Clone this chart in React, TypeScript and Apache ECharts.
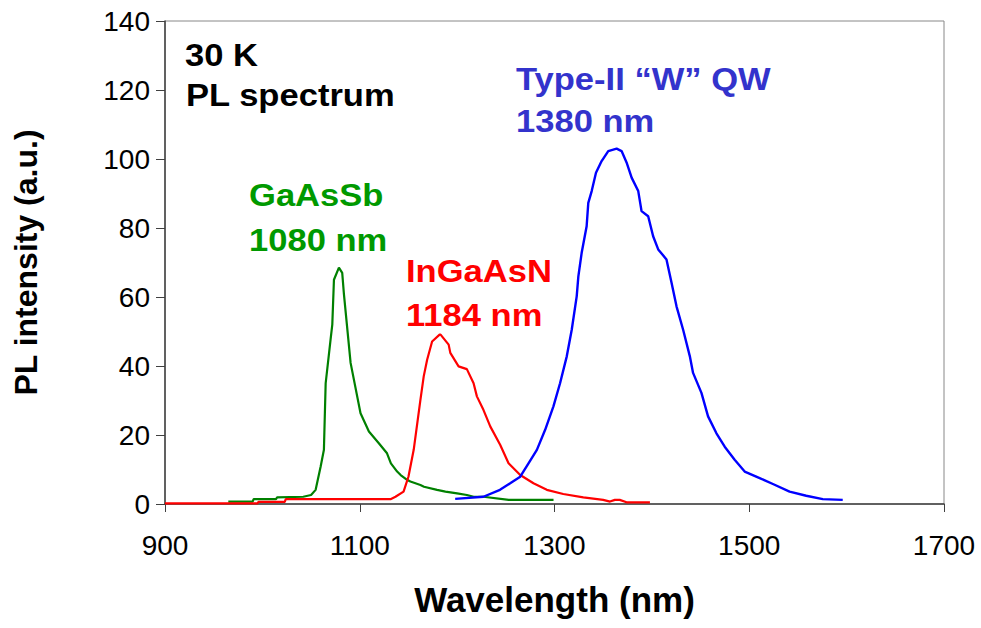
import React, { useEffect, useRef } from "react";
import * as echarts from "echarts";

// GaAsSb (green)
const gaassbX = [965, 990, 991, 1014, 1015, 1042, 1050, 1054.7, 1059.8, 1063.2, 1065, 1070, 1071.8, 1073.5, 1078.6, 1082, 1083.7, 1090.6, 1100.8, 1109.4, 1119.6, 1128, 1132, 1138.4, 1142, 1148.6, 1152, 1162.3, 1166, 1179.4, 1188, 1200, 1210, 1217, 1227, 1253, 1299];
const gaassbY = [0.7, 0.7, 1.4, 1.4, 1.9, 2.1, 2.6, 4.1, 10.8, 15.7, 35, 47.6, 52, 65, 68.5, 67, 61, 40.9, 26.3, 21, 17.6, 14.7, 11.8, 9.4, 8.4, 7, 6.5, 5.5, 5, 4.1, 3.6, 3.1, 2.6, 2.1, 2.1, 1.2, 1.2];

// InGaAsN (red)
const ingaasnX = [900, 995, 996, 1023, 1024, 1131.6, 1136.7, 1145, 1150, 1155.4, 1162.3, 1165.7, 1169.2, 1174.3, 1182, 1183, 1191.3, 1193, 1201.5, 1210, 1216.9, 1220.3, 1227, 1234, 1244.3, 1252.8, 1264.8, 1278.4, 1292.1, 1309, 1329.6, 1350, 1357, 1362, 1367, 1374, 1398];
const ingaasnY = [0.2, 0.2, 0.6, 0.6, 1.4, 1.4, 2.1, 3.6, 7.9, 15.7, 30.2, 37, 41.8, 47.1, 49.1, 49.1, 46.2, 43.8, 39.9, 39.1, 35, 31.2, 27.3, 22.5, 17.1, 11.8, 8.4, 6, 4.1, 2.9, 1.9, 1.2, 0.7, 1.2, 1.2, 0.5, 0.5];

// Type-II "W" QW (blue)
const wqwX = [1198, 1227, 1244, 1254.5, 1264.8, 1273.3, 1281.9, 1290.4, 1298.9, 1305.7, 1312.6, 1317.7, 1322.8, 1324.5, 1327.9, 1333, 1334.7, 1338.2, 1342.6, 1348.4, 1355.2, 1363.8, 1368.9, 1374, 1379.2, 1386, 1389.4, 1396.2, 1401.3, 1406.5, 1415, 1420.2, 1425.3, 1432.1, 1439, 1442.3, 1450.9, 1457.7, 1466.3, 1474.8, 1485, 1495.3, 1510.7, 1524.3, 1541.4, 1558.5, 1575.5, 1596];
const wqwY = [1.5, 2.1, 4.1, 6, 7.9, 11.8, 15.7, 21.5, 28.3, 35, 42.8, 50.5, 60.2, 66, 72.8, 80.5, 87.3, 90.7, 96, 99.4, 102.3, 103, 102.3, 99, 94.6, 90.7, 84.9, 83.4, 77.6, 73.8, 70.9, 64.1, 57.3, 50.5, 42.8, 38, 32.2, 25.4, 20.5, 16.6, 12.8, 9.4, 7.5, 5.8, 3.6, 2.4, 1.4, 1.2];

const xTicks = [900, 1100, 1300, 1500, 1700];
const yTicks = [0, 20, 40, 60, 80, 100, 120, 140];

const FONT = '"Liberation Sans", Arial, sans-serif';

const zip = (xs: number[], ys: number[]) => xs.map((x, i) => [x, ys[i]]);

const label = (text: string, x: number, y: number, color: string) => ({
  type: "text",
  x,
  y,
  scaleX: 1.08,
  style: {
    text,
    fill: color,
    fontSize: 32,
    fontWeight: "bold",
    fontFamily: FONT,
    verticalAlign: "middle",
    align: "left",
  },
});

export default function App() {
  const ref = useRef<HTMLDivElement>(null);
  useEffect(() => {
    document.body.style.margin = "0";
    const chart = echarts.init(ref.current!, null, { renderer: "svg" });
    chart.setOption({
      animation: false,
      backgroundColor: "#ffffff",
      grid: {
        left: 165,
        right: 37,
        top: 21,
        bottom: 124,
        show: true,
        borderColor: "#888888",
        borderWidth: 1,
        backgroundColor: "transparent",
      },
      xAxis: {
        type: "value",
        min: xTicks[0],
        max: xTicks[xTicks.length - 1],
        interval: 200,
        name: "Wavelength (nm)",
        nameLocation: "middle",
        nameGap: 78,
        nameTextStyle: { fontSize: 35, fontWeight: "bold", color: "#000", fontFamily: FONT },
        axisLine: { lineStyle: { color: "#404040", width: 1.5 } },
        axisTick: { length: 8, lineStyle: { color: "#404040" } },
        axisLabel: {
          fontSize: 28,
          color: "#000",
          fontFamily: FONT,
          margin: 27,
          formatter: (v: number) => String(v),
        },
        splitLine: { show: false },
      },
      yAxis: {
        type: "value",
        min: yTicks[0],
        max: yTicks[yTicks.length - 1],
        interval: 20,
        name: "PL intensity (a.u.)",
        nameLocation: "middle",
        nameGap: 123,
        nameTextStyle: { fontSize: 32, fontWeight: "bold", color: "#000", fontFamily: FONT },
        axisLine: { lineStyle: { color: "#404040", width: 1.5 } },
        axisTick: { length: 9, lineStyle: { color: "#404040" } },
        axisLabel: { fontSize: 28, color: "#000", fontFamily: FONT, margin: 15 },
        splitLine: { show: false },
      },
      series: [
        {
          name: "GaAsSb",
          type: "line",
          data: zip(gaassbX, gaassbY),
          showSymbol: false,
          lineStyle: { color: "#008000", width: 2.2 },
          itemStyle: { color: "#008000" },
        },
        {
          name: "InGaAsN",
          type: "line",
          data: zip(ingaasnX, ingaasnY),
          showSymbol: false,
          lineStyle: { color: "#ff0000", width: 2.2 },
          itemStyle: { color: "#ff0000" },
        },
        {
          name: "Type-II W QW",
          type: "line",
          data: zip(wqwX, wqwY),
          showSymbol: false,
          lineStyle: { color: "#0000ff", width: 2.4 },
          itemStyle: { color: "#0000ff" },
        },
      ],
      graphic: [
        label("30 K", 185, 55, "#000000"),
        label("PL spectrum", 186, 95, "#000000"),
        label("Type-II \u201cW\u201d QW", 516, 79, "#3333cc"),
        label("1380 nm", 516, 121, "#3333cc"),
        label("GaAsSb", 249, 195, "#009900"),
        label("1080 nm", 249, 240, "#009900"),
        label("InGaAsN", 406, 271, "#ff0000"),
        label("1184 nm", 406, 315, "#ff0000"),
      ],
    });
    return () => chart.dispose();
  }, []);
  return <div ref={ref} style={{ width: 981, height: 628 }} />;
}
